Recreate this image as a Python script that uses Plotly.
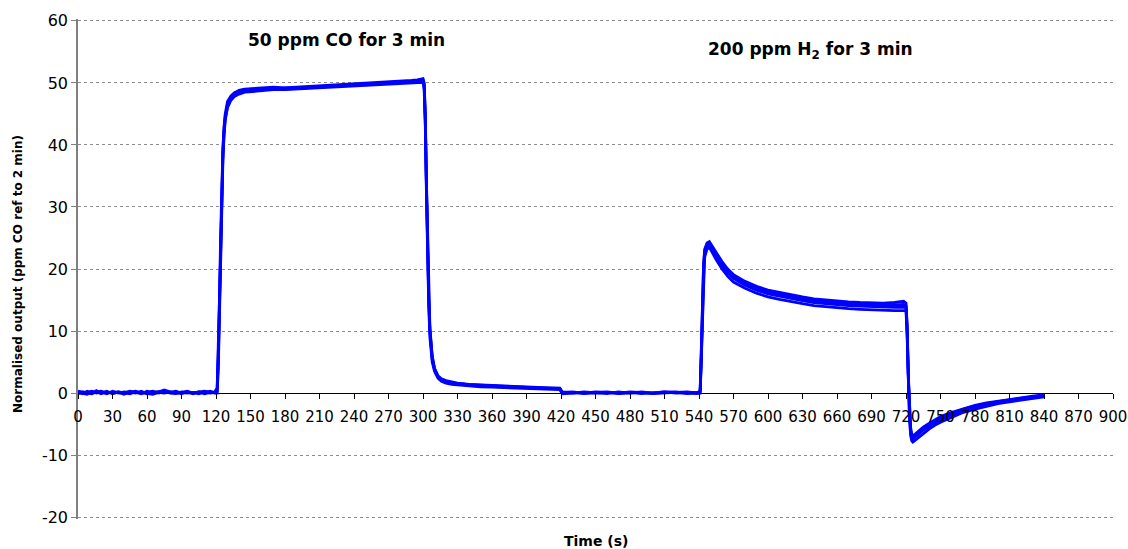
import plotly.graph_objects as go

# Time points (s)
time_s = [
    0, 4, 8, 12, 16, 20, 25, 30, 35, 40, 45, 50, 55, 60, 65, 70, 75, 80, 85, 90, 95, 100, 105, 110, 115, 119,
    121, 122, 123, 124, 125, 126, 127, 128, 130, 133, 136, 140, 145, 150,
    160, 170, 180, 190, 200, 210, 220, 230, 240, 250, 260, 270, 280, 290, 295, 300,
    301, 302, 303, 304, 305, 306, 308, 310, 313, 316, 320, 325, 330,
    340, 350, 360, 370, 380, 390, 400, 410, 419,
    421, 430, 440, 450, 460, 470, 480, 490, 500, 510, 520, 530, 538, 540,
    541, 542, 543, 544, 545, 547, 549, 551, 555, 560, 565, 570,
    580, 590, 600, 610, 620, 630, 640, 650, 660, 670, 680, 690, 700, 710, 718, 720,
    721, 722, 723, 724, 725, 726, 728, 731, 735, 740, 745, 750,
    760, 770, 780, 790, 800, 810, 820, 830, 840,
]

run_1 = [
    0.2, -0.1, 0.3, 0.0, 0.4, -0.1, 0.2, 0.0, 0.1, -0.2, 0.2, 0.0, 0.3, -0.1, 0.1, 0.2, 0.4, 0.0, -0.1, 0.2, 0.0, 0.1, -0.1, 0.2, 0.0, 0.1,
    0.5, 6.5, 14, 24, 33, 39, 42.5, 44.5, 46.5, 47.6, 48.1, 48.5, 48.7, 48.8,
    49.0, 49.1, 49.0, 49.1, 49.2, 49.3, 49.4, 49.5, 49.6, 49.7, 49.8, 49.9, 50.0, 50.1, 50.2, 50.3,
    49.5, 44, 33, 23, 15, 10, 5.5, 3.8, 2.6, 2.1, 1.8, 1.6, 1.5,
    1.3, 1.2, 1.1, 1.0, 0.95, 0.9, 0.8, 0.75, 0.7,
    0.0, 0.1, -0.1, 0.1, 0.2, 0.0, 0.1, -0.1, 0.1, 0.2, 0.0, 0.1, 0.2, 0.1,
    0.3, 6, 14, 20, 22.5, 23.6, 23.9, 23.2, 22.0, 20.6, 19.4, 18.5,
    17.4, 16.6, 16.0, 15.6, 15.2, 14.9, 14.6, 14.4, 14.2, 14.1, 14.0, 13.9, 13.9, 13.8, 13.8, 13.8,
    10, 2, -3.5, -6.2, -7.2, -7.4, -7.1, -6.6, -6.0, -5.4, -4.8, -4.3,
    -3.5, -2.8, -2.3, -1.9, -1.5, -1.2, -0.9, -0.7, -0.5,
]

run_2 = [
    -0.1, 0.2, 0.1, 0.3, 0.0, 0.2, -0.1, 0.3, 0.0, 0.2, 0.1, 0.3, 0.0, 0.2, 0.3, 0.0, 0.2, 0.1, 0.3, 0.0, 0.2, -0.1, 0.2, 0.1, 0.3, 0.0,
    0.3, 5.5, 13, 23, 32, 38.5, 42, 44.2, 46.3, 47.5, 48.3, 48.8, 49.0, 49.1,
    49.2, 49.3, 49.2, 49.3, 49.4, 49.5, 49.6, 49.7, 49.8, 49.9, 50.0, 50.1, 50.2, 50.4, 50.5, 50.7,
    50.0, 45, 34, 24, 16, 10.5, 6, 4.0, 2.8, 2.3, 2.0, 1.8, 1.6,
    1.4, 1.3, 1.2, 1.1, 1.0, 0.95, 0.9, 0.85, 0.8,
    0.2, 0.0, 0.2, 0.1, -0.1, 0.2, 0.0, 0.2, 0.0, 0.1, 0.2, -0.1, 0.1, 0.0,
    0.2, 7, 15.5, 21, 23.2, 24.2, 24.4, 23.8, 22.6, 21.2, 20.0, 19.1,
    18.0, 17.2, 16.6, 16.2, 15.8, 15.5, 15.2, 15.0, 14.8, 14.7, 14.6, 14.5, 14.5, 14.6, 14.8, 14.5,
    11, 3, -2.5, -5.5, -6.6, -6.9, -6.6, -6.1, -5.5, -4.9, -4.3, -3.8,
    -3.1, -2.5, -2.0, -1.6, -1.3, -1.0, -0.8, -0.5, -0.3,
]

run_3 = [
    0.1, 0.0, -0.2, 0.2, 0.1, 0.0, 0.3, -0.1, 0.2, 0.1, -0.1, 0.2, 0.1, 0.0, -0.2, 0.1, 0.0, 0.2, 0.1, -0.1, 0.1, 0.0, 0.2, -0.1, 0.1, 0.0,
    0.0, 4, 12, 22, 31, 37.5, 41.5, 44, 46, 47.2, 47.8, 48.2, 48.5, 48.6,
    48.8, 48.9, 48.9, 49.0, 49.0, 49.1, 49.2, 49.3, 49.4, 49.5, 49.6, 49.7, 49.8, 49.9, 50.0, 50.1,
    49.0, 43, 32, 22, 14, 9, 5, 3.5, 2.4, 1.9, 1.6, 1.4, 1.3,
    1.1, 1.0, 0.95, 0.9, 0.8, 0.75, 0.7, 0.6, 0.55,
    -0.1, 0.0, 0.1, 0.0, 0.1, -0.1, 0.0, 0.1, -0.1, 0.0, 0.1, 0.0, -0.1, 0.0,
    0.0, 5, 13, 19, 22, 23.2, 23.5, 22.8, 21.5, 20.0, 18.8, 17.9,
    16.9, 16.1, 15.5, 15.1, 14.7, 14.4, 14.1, 13.9, 13.7, 13.6, 13.5, 13.4, 13.4, 13.3, 13.3, 13.3,
    9, 1, -4, -6.8, -7.7, -7.9, -7.6, -7.0, -6.4, -5.8, -5.2, -4.7,
    -3.9, -3.1, -2.6, -2.1, -1.7, -1.4, -1.1, -0.8, -0.6,
]

run_4 = [
    0.3, 0.1, 0.0, -0.1, 0.2, 0.3, 0.0, 0.1, 0.2, 0.0, 0.3, 0.1, -0.1, 0.3, 0.0, 0.1, 0.5, 0.2, 0.0, 0.1, 0.3, 0.0, 0.1, 0.3, 0.1, 0.2,
    0.8, 7, 15, 25, 34, 39.5, 43, 45, 47, 47.9, 48.4, 48.7, 48.9, 49.0,
    49.1, 49.0, 49.2, 49.2, 49.3, 49.4, 49.5, 49.6, 49.7, 49.8, 49.9, 50.0, 50.1, 50.3, 50.4, 50.5,
    49.8, 44.5, 33.5, 23.5, 15.5, 10.2, 5.8, 3.9, 2.7, 2.2, 1.9, 1.7, 1.5,
    1.35, 1.25, 1.15, 1.05, 0.95, 0.9, 0.85, 0.8, 0.75,
    0.1, 0.2, 0.0, 0.2, 0.1, 0.0, 0.2, 0.1, 0.0, 0.2, 0.1, 0.2, 0.0, 0.2,
    0.5, 6.5, 15, 20.5, 23, 24, 24.1, 23.5, 22.3, 20.9, 19.7, 18.8,
    17.7, 16.9, 16.3, 15.9, 15.5, 15.2, 14.9, 14.7, 14.5, 14.4, 14.3, 14.2, 14.2, 14.2, 14.3, 14.1,
    10.5, 2.5, -3, -5.9, -6.9, -7.1, -6.9, -6.4, -5.8, -5.1, -4.6, -4.0,
    -3.3, -2.6, -2.1, -1.7, -1.4, -1.1, -0.8, -0.6, -0.4,
]

runs = [run_1, run_2, run_3, run_4]

x_ticks = list(range(0, 901, 30))
y_ticks = list(range(-20, 61, 10))

FONT = "DejaVu Sans"

fig = go.Figure()
for r in runs:
    assert len(r) == len(time_s)
    fig.add_trace(go.Scatter(
        x=time_s, y=r, mode="lines",
        line=dict(color="#0000FF", width=2.8),
        showlegend=False, hoverinfo="skip",
    ))

fig.update_layout(
    width=1128, height=549,
    margin=dict(l=78, r=15, t=19, b=30, autoexpand=False),
    paper_bgcolor="white", plot_bgcolor="white",
    font=dict(family=FONT, color="black"),
    xaxis=dict(
        range=[0, 900], tickvals=x_ticks, ticktext=[str(v) for v in x_ticks],
        anchor="free", position=20.3 / 80.6,
        showline=True, linecolor="black", linewidth=1,
        ticks="outside", ticklen=5, tickcolor="black",
        showgrid=False, zeroline=False,
        tickfont=dict(size=15, family=FONT), ticklabelstandoff=5,
    ),
    yaxis=dict(
        range=[-20.3, 60.3], tickvals=y_ticks, ticktext=[str(v) for v in y_ticks],
        showline=True, linecolor="#808080", linewidth=1.5,
        ticks="outside", ticklen=5, tickcolor="#808080",
        showgrid=True, gridcolor="#8c8c8c", griddash="dot", gridwidth=1,
        zeroline=False,
        tickfont=dict(size=16, family=FONT),
    ),
    annotations=[
        dict(text="<b>50 ppm CO for 3 min</b>", x=233.5, y=56.9, xref="x", yref="y",
             showarrow=False, font=dict(size=17, family=FONT)),
        dict(text="<b>200 ppm H<sub>2</sub> for 3 min</b>", x=637, y=55.3, xref="x", yref="y",
             showarrow=False, font=dict(size=17, family=FONT)),
        dict(text="<b>Time (s)</b>", x=0.5, y=-0.044, xref="paper", yref="paper",
             showarrow=False, font=dict(size=14, family=FONT), yanchor="middle"),
        dict(text="<b>Normalised output (ppm CO ref to 2 min)</b>", x=-0.058, y=0.49,
             xref="paper", yref="paper", textangle=-90, showarrow=False,
             font=dict(size=12, family=FONT), xanchor="center", yanchor="middle"),
    ],
)

fig.write_html("out.html", config={"displayModeBar": False},
               post_script="document.body.style.margin='0';")
